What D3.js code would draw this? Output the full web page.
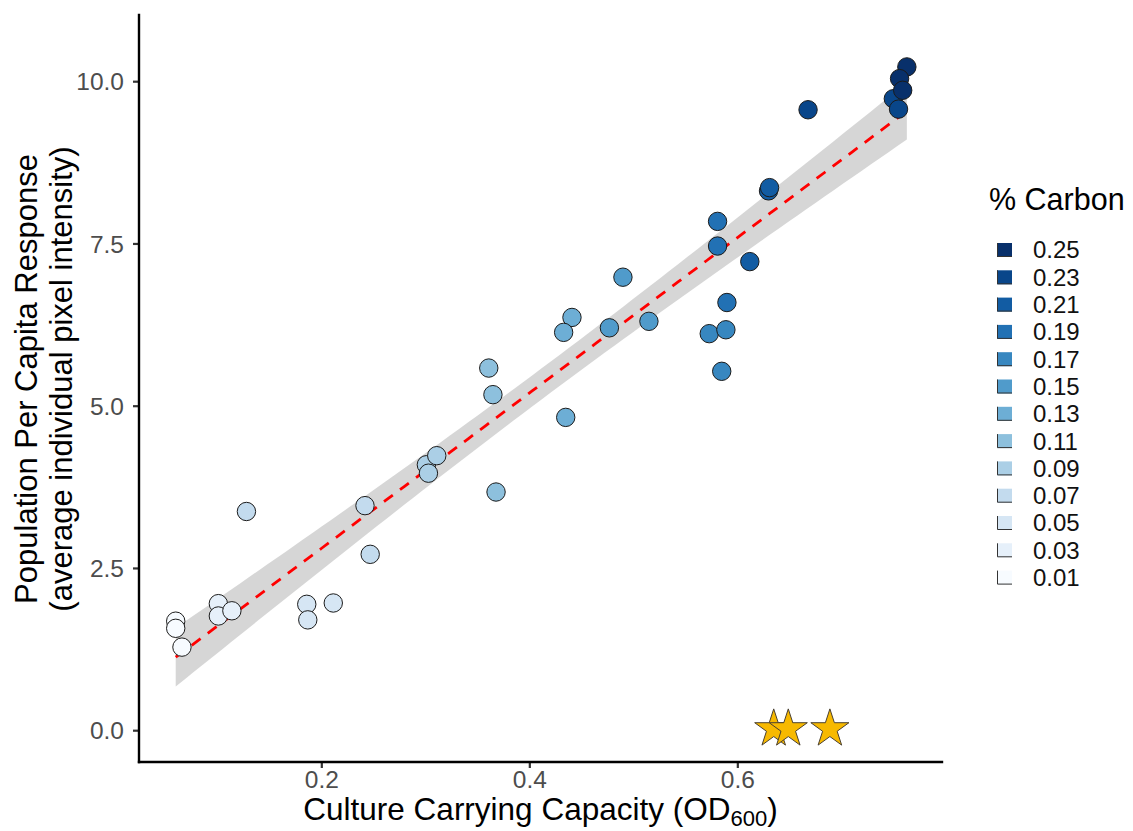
<!DOCTYPE html>
<html>
<head>
<meta charset="utf-8">
<script src="https://cdn.jsdelivr.net/npm/d3@7"></script>
<style>
  html, body { margin: 0; padding: 0; background: #fff; }
  svg text { font-family: "Liberation Sans", Arial, Helvetica, sans-serif; }
</style>
</head>
<body>
<svg id="chart" width="1133" height="831"></svg>
<script>
// % carbon level of each culture (three replicates per level)
const carbon = [
  0.01, 0.01, 0.01,
  0.03, 0.03, 0.03,
  0.05, 0.05, 0.05,
  0.07, 0.07, 0.07,
  0.09, 0.09, 0.09,
  0.11, 0.11, 0.11,
  0.13, 0.13, 0.13,
  0.15, 0.15, 0.15,
  0.17, 0.17, 0.17,
  0.19, 0.19, 0.19,
  0.21, 0.21, 0.21,
  0.23, 0.23, 0.23,
  0.25, 0.25, 0.25
];
// culture carrying capacity (OD600)
const od600 = [
  0.060, 0.060, 0.066,
  0.101, 0.101, 0.114,
  0.186, 0.187, 0.2115,
  0.128, 0.242, 0.247,
  0.301, 0.311, 0.303,
  0.361, 0.365, 0.368,
  0.435, 0.441, 0.433,
  0.477, 0.515, 0.490,
  0.573, 0.589, 0.585,
  0.590, 0.581, 0.581,
  0.612, 0.630, 0.631,
  0.668, 0.750, 0.755,
  0.763, 0.756, 0.759
];
// population per capita response (average individual pixel intensity)
const response = [
  1.68, 1.57, 1.28,
  1.95, 1.76, 1.84,
  1.94, 1.70, 1.96,
  3.37, 3.46, 2.71,
  4.09, 4.23, 3.96,
  5.58, 5.17, 3.67,
  4.82, 6.36, 6.13,
  6.20, 6.30, 6.98,
  6.11, 6.17, 5.53,
  6.59, 7.84, 7.46,
  7.22, 8.31, 8.36,
  9.56, 9.73, 9.57,
  10.22, 10.04, 9.86
];
// cultures with no response (plotted as stars)
const starOD = [0.635, 0.649, 0.689];
const starResponse = [0.02, 0.02, 0.02];

const legendLevels = [0.25, 0.23, 0.21, 0.19, 0.17, 0.15, 0.13, 0.11, 0.09, 0.07, 0.05, 0.03, 0.01];
const xTicks = [0.2, 0.4, 0.6];
const yTicks = [0.0, 2.5, 5.0, 7.5, 10.0];

const svg = d3.select("#chart");
const panel = { left: 139, right: 942, top: 15, bottom: 762 };

const x = d3.scaleLinear().domain([0.0247, 0.7968]).range([panel.left, panel.right]);
const y = d3.scaleLinear().domain([-0.49, 11.02]).range([panel.bottom, panel.top]);
const color = d3.scaleSequential(d3.interpolateBlues).domain([0.01, 0.25]);

// ---- linear model with 95% confidence band ----
const n = od600.length;
const xbar = d3.mean(od600), ybar = d3.mean(response);
let sxx = 0, sxy = 0;
for (let i = 0; i < n; i++) {
  sxx += (od600[i] - xbar) ** 2;
  sxy += (od600[i] - xbar) * (response[i] - ybar);
}
const slope = sxy / sxx;
const intercept = ybar - slope * xbar;
let sse = 0;
for (let i = 0; i < n; i++) sse += (response[i] - (intercept + slope * od600[i])) ** 2;
const sigma = Math.sqrt(sse / (n - 2));
const tCrit = 2.026; // t(0.975, df = 37)
const [xmin, xmax] = d3.extent(od600);
const fitGrid = d3.range(0, 81).map(k => {
  const xv = xmin + (xmax - xmin) * k / 80;
  const fit = intercept + slope * xv;
  const se = sigma * Math.sqrt(1 / n + (xv - xbar) ** 2 / sxx);
  return { x: xv, fit, lo: fit - tCrit * se, hi: fit + tCrit * se };
});

svg.append("path")
  .datum(fitGrid)
  .attr("fill", "#999999")
  .attr("fill-opacity", 0.4)
  .attr("d", d3.area().x(d => x(d.x)).y0(d => y(d.lo)).y1(d => y(d.hi)));

svg.append("path")
  .datum(fitGrid)
  .attr("fill", "none")
  .attr("stroke", "#ff0000")
  .attr("stroke-width", 2.8)
  .attr("stroke-dasharray", "11,9")
  .attr("d", d3.line().x(d => x(d.x)).y(d => y(d.fit)));

// ---- points ----
svg.append("g")
  .selectAll("circle")
  .data(d3.range(n))
  .join("circle")
  .attr("cx", i => x(od600[i]))
  .attr("cy", i => y(response[i]))
  .attr("r", 9.2)
  .attr("fill", i => color(carbon[i]))
  .attr("stroke", "#1b1b1b")
  .attr("stroke-width", 1);

// ---- stars ----
const star = d3.symbol().type(d3.symbolStar).size(450);
svg.append("g")
  .selectAll("path")
  .data(d3.range(starOD.length))
  .join("path")
  .attr("transform", i => `translate(${x(starOD[i])},${y(starResponse[i])})`)
  .attr("d", star)
  .attr("fill", "#f7b900")
  .attr("stroke", "#4a4030")
  .attr("stroke-width", 1);

// ---- axes ----
const xAxis = svg.append("g").attr("transform", `translate(0,${panel.bottom})`)
  .call(d3.axisBottom(x).tickValues(xTicks).tickFormat(d3.format(".1f")).tickSize(6).tickSizeOuter(0));
const yAxis = svg.append("g").attr("transform", `translate(${panel.left},0)`)
  .call(d3.axisLeft(y).tickValues(yTicks).tickFormat(d3.format(".1f")).tickSize(6).tickSizeOuter(0));

[xAxis, yAxis].forEach(g => {
  g.select(".domain").remove();
  g.selectAll(".tick line").attr("stroke", "#333333").attr("stroke-width", 2.2);
  g.selectAll(".tick text").attr("fill", "#4d4d4d").style("font-size", "24.5px");
});
xAxis.selectAll(".tick text").attr("y", 9).attr("dy", "0.71em");
yAxis.selectAll(".tick text").attr("x", -15).attr("dy", "0.35em");

// axis lines
svg.append("line")
  .attr("x1", panel.left).attr("x2", panel.right)
  .attr("y1", panel.bottom).attr("y2", panel.bottom)
  .attr("stroke", "#000").attr("stroke-width", 2.4).attr("stroke-linecap", "square");
svg.append("line")
  .attr("x1", panel.left).attr("x2", panel.left)
  .attr("y1", panel.top).attr("y2", panel.bottom)
  .attr("stroke", "#000").attr("stroke-width", 2.4).attr("stroke-linecap", "square");

// ---- axis titles ----
const xTitle = svg.append("text")
  .attr("x", (panel.left + panel.right) / 2)
  .attr("y", 820)
  .attr("text-anchor", "middle")
  .style("font-size", "31.5px")
  .attr("fill", "#000");
xTitle.append("tspan").text("Culture Carrying Capacity (OD");
xTitle.append("tspan").text("600").style("font-size", "22px").attr("dy", 6);
xTitle.append("tspan").text(")").attr("dy", -6);

const yTitle = svg.append("g").attr("transform", "translate(0,379) rotate(-90)");
yTitle.append("text")
  .attr("x", 0).attr("y", 37)
  .attr("text-anchor", "middle")
  .style("font-size", "31px")
  .text("Population Per Capita Response");
yTitle.append("text")
  .attr("x", 0).attr("y", 72)
  .attr("text-anchor", "middle")
  .style("font-size", "31px")
  .text("(average individual pixel intensity)");

// ---- legend ----
const legend = svg.append("g");
legend.append("text")
  .attr("x", 989).attr("y", 210)
  .style("font-size", "30.5px")
  .text("% Carbon");
const item = legend.selectAll("g.item")
  .data(legendLevels)
  .join("g")
  .attr("class", "item")
  .attr("transform", (d, i) => `translate(997,${250 + i * 27.3})`);
item.append("rect")
  .attr("x", 0).attr("y", -7)
  .attr("width", 15).attr("height", 14)
  .attr("fill", d => color(d));
item.append("path")
  .attr("d", "M0.5,-7 V6.5 H15")
  .attr("fill", "none")
  .attr("stroke", "#333")
  .attr("stroke-width", 1);
item.append("text")
  .attr("x", 36).attr("y", 0)
  .attr("dy", "0.35em")
  .style("font-size", "24px")
  .attr("fill", "#111")
  .text(d => d.toFixed(2));
</script>
</body>
</html>
